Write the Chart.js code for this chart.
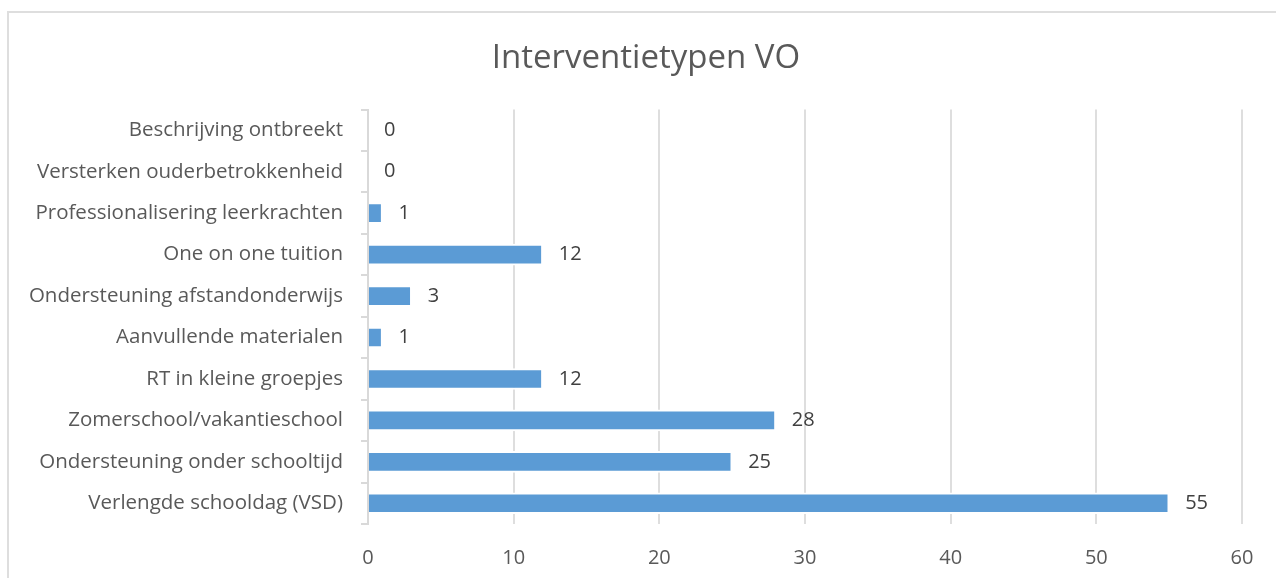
<!DOCTYPE html>
<html>
<head>
<meta charset="utf-8">
<script src="https://cdn.jsdelivr.net/npm/chart.js@4"></script>
<style>
  html,body{margin:0;padding:0;background:#fff;overflow:hidden;}
  #frame{position:absolute;left:7px;top:11px;width:1290px;height:600px;border:2px solid #dedede;box-sizing:border-box;}
  #wrap{position:absolute;left:0;top:0;width:1276px;height:578px;}
</style>
</head>
<body>
<div id="frame"></div>
<div id="wrap"><canvas id="c"></canvas></div>
<script>
// categories top to bottom
const categories=[
  "Beschrijving ontbreekt",
  "Versterken ouderbetrokkenheid",
  "Professionalisering leerkrachten",
  "One on one tuition",
  "Ondersteuning afstandonderwijs",
  "Aanvullende materialen",
  "RT in kleine groepjes",
  "Zomerschool/vakantieschool",
  "Ondersteuning onder schooltijd",
  "Verlengde schooldag (VSD)"
];
const counts=[0,0,1,12,3,1,12,28,25,55];
const xMin=0, xMax=60, xStep=10;

const FONT='"Open Sans", "DejaVu Sans", sans-serif';

// value labels at bar end
const valueLabels={
  id:"valueLabels",
  afterDatasetsDraw(chart){
    const {ctx}=chart;
    const meta=chart.getDatasetMeta(0);
    const xs=chart.scales.x;
    ctx.save();
    ctx.font="20px "+FONT;
    ctx.fillStyle="#404040";
    ctx.textAlign="left";
    ctx.textBaseline="middle";
    meta.data.forEach((bar,i)=>{
      const end=xs.getPixelForValue(counts[i]);
      ctx.fillText(String(counts[i]),end+16,bar.y);
    });
    ctx.restore();
  }
};

// centre the title in the outer frame rather than the padded box
const centreTitle={
  id:"centreTitle",
  afterLayout(chart){
    const t=chart.titleBlock;
    if(t){ t.left=16; t.right=1276; }
  }
};

new Chart(document.getElementById("c"),{
  type:"bar",
  data:{labels:categories,datasets:[{
    data:counts,
    backgroundColor:"#5b9bd5",
    borderColor:"#ffffff",
    borderWidth:{top:2,bottom:2,right:2,left:0},
    borderSkipped:false,
    barThickness:21
  }]},
  options:{
    indexAxis:"y",
    responsive:true,
    maintainAspectRatio:false,
    animation:false,
    layout:{padding:{left:0,right:34,top:0,bottom:0}},
    plugins:{
      legend:{display:false},
      tooltip:{enabled:false},
      title:{
        display:true,
        text:"Interventietypen VO",
        color:"#595959",
        font:{family:FONT,size:33,weight:"normal"},
        padding:{top:39,bottom:31}
      }
    },
    scales:{
      x:{
        min:xMin,max:xMax,
        ticks:{stepSize:xStep,color:"#595959",font:{family:FONT,size:20},padding:22},
        grid:{color:"#dedede",lineWidth:2,drawTicks:false},
        border:{display:false},
        afterFit(s){s.height=54;}
      },
      y:{
        ticks:{color:"#595959",font:{family:FONT,size:20.5},padding:18},
        grid:{offset:true,drawOnChartArea:false,color:"#d9d9d9",lineWidth:2,tickLength:7},
        border:{display:true,color:"#d9d9d9",width:2},
        afterFit(s){s.width=368;}
      }
    }
  },
  plugins:[valueLabels,centreTitle]
});
</script>
</body>
</html>
